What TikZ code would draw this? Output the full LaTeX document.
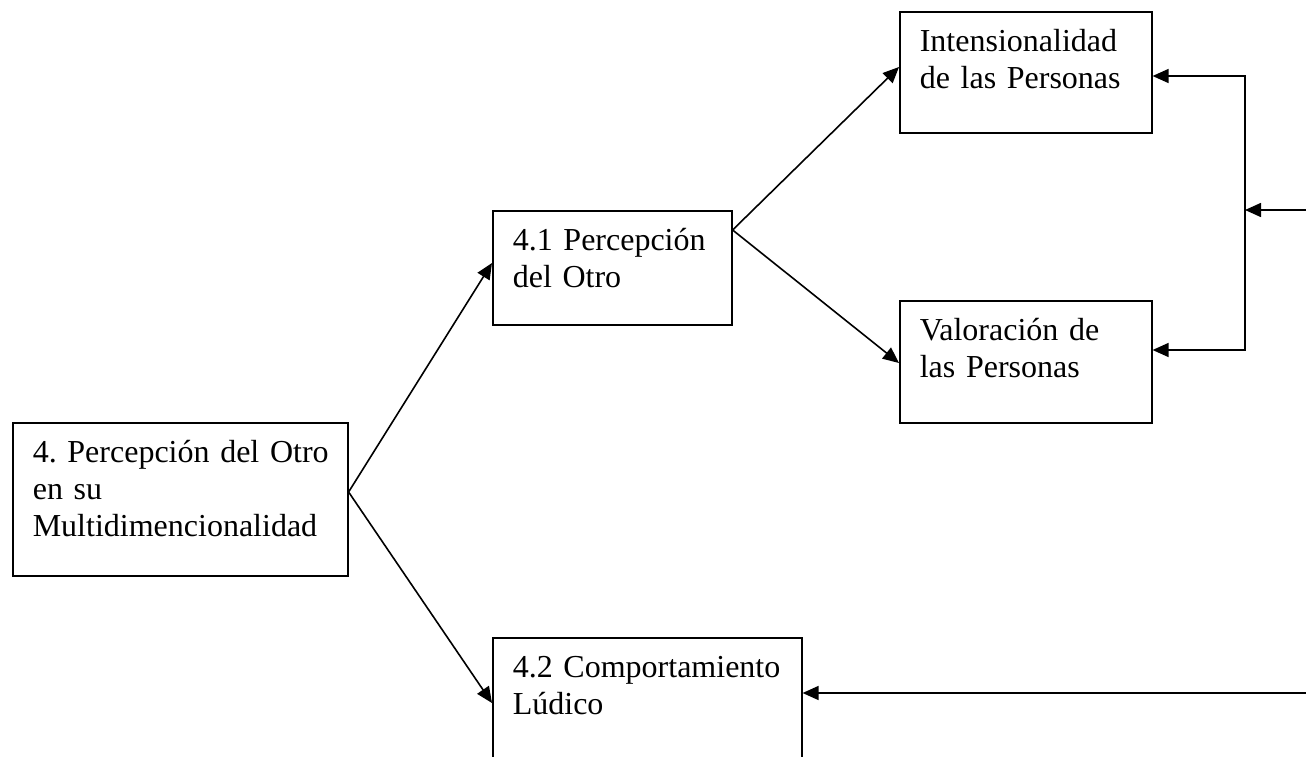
\documentclass[tikz,border=0pt]{standalone}
\usepackage{fontspec}
\setmainfont{Liberation Serif}
\usetikzlibrary{arrows.meta}
\frenchspacing

\begin{document}
\begin{tikzpicture}[x=1pt,y=-1pt,
    box/.style={draw,line width=1.6pt,anchor=north west,align=left,
      inner xsep=20pt,inner ysep=0pt,text height=40pt,
      font=\fontsize{32}{37}\selectfont},
    conn/.style={line width=1.6pt,-{Triangle[length=16pt,width=14pt]}}]
    \clip (0,0) rectangle (1306,757);
    \node[box,text width=295pt,text depth=113pt] (root) at (12,422)
      {\mbox{4. Percepción del Otro}\\en su\\Multidimencionalidad};
    \node[box,text width=199pt,text depth=74pt] (p41) at (492,210)
      {4.1 Percepción\\del Otro};
    \node[box,text width=269pt,text depth=100pt] (p42) at (492,637)
      {\mbox{4.2 Comportamiento}\\Lúdico};
    \node[box,text width=212pt,text depth=81pt] (int) at (899,11)
      {Intensionalidad\\de las Personas};
    \node[box,text width=212pt,text depth=82pt] (val) at (899,300)
      {Valoración de\\las Personas};
    %\draw[loosely dotted] (0,0) grid (1306,757);
    \draw[conn] ([yshift=-70pt]root.north east) -- ([yshift=-53pt]p41.north west);
    \draw[conn] ([yshift=-70pt]root.north east) -- ([yshift=-66pt]p42.north west);
    \draw[conn] ([yshift=-20pt]p41.north east) -- ([yshift=-56pt]int.north west);
    \draw[conn] ([yshift=-20pt]p41.north east) -- ([yshift=-63pt]val.north west);
    \coordinate (feed) at (1245,210);
    \coordinate (inA) at (1312,210);
    \coordinate (inB) at (1312,693);
    \draw[conn] (inA) -- (feed);
    \draw[conn] (feed) |- ([yshift=-65pt]int.north east);
    \draw[conn] (feed) |- ([yshift=-50pt]val.north east);
    \draw[conn] (inB) -- ([yshift=-56pt]p42.north east);
\end{tikzpicture}
\end{document}
